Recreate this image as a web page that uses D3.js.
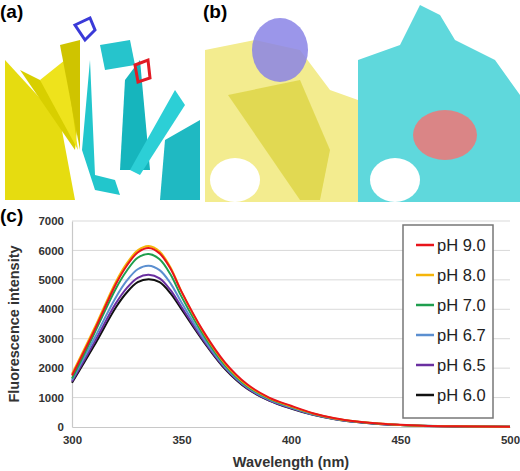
<html>
<head>
<script src="https://d3js.org/d3.v7.min.js"></script>
<style>
  body { margin: 0; background: #fff; }
  text { font-family: Arial, "Liberation Sans", sans-serif; }
</style>
</head>
<body>
<svg id="fig" width="520" height="471"></svg>
<script>
// wavelengths sampled (nm)
var wavelengths = [300, 310, 320, 325, 330, 335, 340, 345, 350, 360, 370, 380, 390, 400, 410, 420, 430, 440, 450, 460, 475, 500];
// fluorescence intensity, one array per pH
var ph90 = [1750, 3250, 4850, 5480, 5930, 6080, 5900, 5380, 4600, 3250, 2180, 1450, 1000, 720, 470, 300, 190, 120, 75, 45, 25, 10];
var ph80 = [1800, 3320, 4930, 5560, 6000, 6150, 5960, 5420, 4600, 3220, 2140, 1420, 980, 700, 460, 290, 185, 115, 72, 43, 24, 9];
var ph70 = [1650, 3150, 4700, 5310, 5750, 5880, 5700, 5180, 4430, 3130, 2090, 1390, 960, 690, 450, 285, 180, 112, 70, 42, 23, 9];
var ph67 = [1600, 2980, 4400, 4970, 5360, 5480, 5330, 4880, 4230, 3020, 2030, 1350, 930, 660, 430, 275, 175, 108, 68, 40, 22, 8];
var ph65 = [1550, 2850, 4200, 4720, 5070, 5170, 5050, 4650, 4080, 2950, 1990, 1320, 910, 640, 420, 270, 170, 105, 66, 39, 21, 8];
var ph60 = [1500, 2750, 4060, 4570, 4920, 5020, 4920, 4540, 4000, 2910, 1960, 1300, 900, 630, 415, 265, 168, 104, 65, 38, 21, 8];
var seriesNames = ["pH 9.0", "pH 8.0", "pH 7.0", "pH 6.7", "pH 6.5", "pH 6.0"];
var seriesColors = ["#e8141b", "#f5b50a", "#1f9e4e", "#5b8fd0", "#6a2fa0", "#111111"];
var seriesData = [ph90, ph80, ph70, ph67, ph65, ph60];
var yTicks = [0, 1000, 2000, 3000, 4000, 5000, 6000, 7000];
var xTicks = [300, 350, 400, 450, 500];

var svg = d3.select("#fig");

// --- panels (a) and (b): rough sketch of the structure images ---
var panels = svg.append("g");
// (a) ribbons
panels.append("path").attr("d", "M5,60 L60,120 L75,200 L5,200 Z").attr("fill", "#e6dc10");
panels.append("path").attr("d", "M20,70 L75,150 L80,100 Z").attr("fill", "#d8cf00");
panels.append("path").attr("d", "M40,80 L78,150 L65,60 Z").attr("fill", "#eee31c");
panels.append("path").attr("d", "M60,45 L80,150 L80,40 Z").attr("fill", "#cfc400");
panels.append("path").attr("d", "M82,150 L95,190 L120,195 L115,180 L95,175 L90,60 Z").attr("fill", "#22c6cc");
panels.append("path").attr("d", "M120,170 L125,80 L140,60 L150,170 Z").attr("fill", "#16b5bd");
panels.append("path").attr("d", "M130,170 L175,90 L185,105 L140,175 Z").attr("fill", "#2ccfd6");
panels.append("path").attr("d", "M165,140 L200,120 L200,200 L160,200 Z").attr("fill", "#1fb9c2");
panels.append("path").attr("d", "M100,45 L130,40 L135,65 L105,70 Z").attr("fill", "#26c4cc");
panels.append("path").attr("d", "M75,25 L90,18 L95,30 L85,40 Z").attr("fill", "none").attr("stroke", "#3a3ad8").attr("stroke-width", 3);
panels.append("path").attr("d", "M135,65 L148,60 L150,78 L138,82 Z").attr("fill", "none").attr("stroke", "#e21b24").attr("stroke-width", 3);
// (b) surfaces
panels.append("path").attr("d", "M205,50 L255,40 L300,50 L330,90 L358,100 L358,202 L205,202 Z").attr("fill", "#f3ec8f");
panels.append("ellipse").attr("cx", 280).attr("cy", 50).attr("rx", 28).attr("ry", 32).attr("fill", "#8a84e6").attr("opacity", 0.85);
panels.append("path").attr("d", "M228,95 L300,80 L330,150 L320,200 L300,200 Z").attr("fill", "#d6cd2a").attr("opacity", 0.6);
panels.append("path").attr("d", "M358,60 L400,45 L420,5 L440,15 L455,40 L495,60 L520,95 L520,202 L358,202 Z").attr("fill", "#5fd8dc");
panels.append("ellipse").attr("cx", 445).attr("cy", 135).attr("rx", 32).attr("ry", 25).attr("fill", "#e87c7c").attr("opacity", 0.9);
panels.append("ellipse").attr("cx", 395).attr("cy", 180).attr("rx", 25).attr("ry", 22).attr("fill", "#fff");
panels.append("ellipse").attr("cx", 235).attr("cy", 180).attr("rx", 25).attr("ry", 22).attr("fill", "#fff");
panels.append("text").attr("x", 0).attr("y", 18).attr("font-size", 19).attr("font-weight", "bold").text("(a)");
panels.append("text").attr("x", 203).attr("y", 18).attr("font-size", 19).attr("font-weight", "bold").text("(b)");

// --- panel (c): the spectra ---
var x = d3.scaleLinear().domain([300, 500]).range([72, 510]);
var y = d3.scaleLinear().domain([0, 7000]).range([427, 221]);

svg.append("text").attr("x", 0).attr("y", 222).attr("font-size", 19).attr("font-weight", "bold").text("(c)");

var grid = svg.append("g");
grid.selectAll("line").data(yTicks.slice(1)).enter().append("line")
  .attr("x1", x(300)).attr("x2", x(500))
  .attr("y1", function (d) { return y(d); }).attr("y2", function (d) { return y(d); })
  .attr("stroke", "#d9d9d9").attr("stroke-width", 1);

var yAxis = svg.append("g").attr("transform", "translate(" + x(300) + ",0)")
  .call(d3.axisLeft(y).tickValues(yTicks).tickFormat(d3.format("d")).tickSize(0).tickPadding(8));
var xAxis = svg.append("g").attr("transform", "translate(0," + y(0) + ")")
  .call(d3.axisBottom(x).tickValues(xTicks).tickFormat(d3.format("d")).tickSize(0).tickPadding(9));
[xAxis, yAxis].forEach(function (a) {
  a.select(".domain").attr("stroke", "#c8c8c8").attr("stroke-width", 1.2);
  a.selectAll("text").attr("font-size", 11.5).attr("font-weight", "bold").attr("fill", "#333");
});

var line = d3.line()
  .x(function (d, i) { return x(wavelengths[i]); })
  .y(function (d) { return y(d); })
  .curve(d3.curveCatmullRom);

// draw from back to front so red ends on top
for (var s = seriesData.length - 1; s >= 0; s--) {
  svg.append("path").attr("d", line(seriesData[s]))
    .attr("fill", "none").attr("stroke", seriesColors[s]).attr("stroke-width", 2);
}

svg.append("text").attr("x", (x(300) + x(500)) / 2).attr("y", 467)
  .attr("text-anchor", "middle").attr("font-size", 14.5).attr("font-weight", "bold").attr("fill", "#333")
  .text("Wavelength (nm)");
svg.append("text").attr("transform", "translate(19," + ((y(0) + y(7000)) / 2) + ") rotate(-90)")
  .attr("text-anchor", "middle").attr("font-size", 14.5).attr("font-weight", "bold").attr("fill", "#333")
  .text("Fluorescence intensity");

// legend
var lg = svg.append("g");
lg.append("rect").attr("x", 403).attr("y", 225).attr("width", 90).attr("height", 193)
  .attr("fill", "#fff").attr("stroke", "#777").attr("stroke-width", 1.5);
seriesNames.forEach(function (n, i) {
  var yy = 245 + i * 30;
  lg.append("line").attr("x1", 416).attr("x2", 434).attr("y1", yy).attr("y2", yy)
    .attr("stroke", seriesColors[i]).attr("stroke-width", 2.5);
  lg.append("text").attr("x", 437).attr("y", yy + 6).attr("font-size", 16.5).attr("fill", "#222").text(n);
});
</script>
</body>
</html>
